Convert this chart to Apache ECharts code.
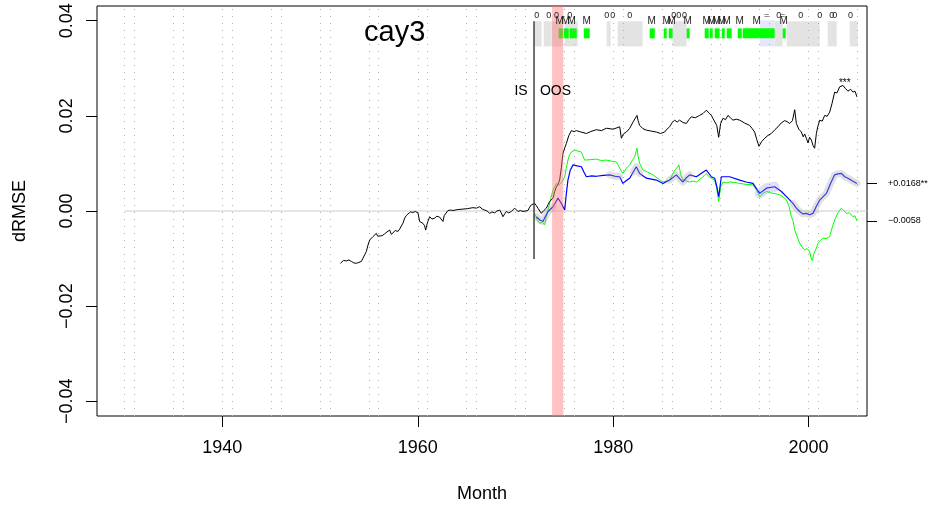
<!DOCTYPE html>
<html>
<head>
<meta charset="utf-8">
<script src="https://cdn.jsdelivr.net/npm/echarts@6/dist/echarts.min.js"></script>
<style>
html, body { margin: 0; padding: 0; background: #fff; }
#chart { width: 932px; height: 512px; }
</style>
</head>
<body>
<div id="chart"></div>
<script>
// Axis ranges and tick labels
const X_MIN = 1927.17, X_MAX = 2005.98;
const Y_MIN = -0.0431, Y_MAX = 0.0431;
const xTicks = [1940, 1960, 1980, 2000];
const yTicks = [-0.04, -0.02, 0, 0.02, 0.04];
const gridYears = [1930, 1931, 1935, 1936, 1940, 1941, 1945, 1946, 1950, 1951, 1955, 1956,
  1960, 1961, 1965, 1966, 1970, 1971, 1975, 1976, 1980, 1981, 1985, 1986, 1990, 1991,
  1995, 1996, 2000, 2001, 2005];

// Cumulative dRMSE, full sample (black)
const blackLine = [
  [1952.08, -0.0110], [1952.25, -0.0106], [1952.40, -0.0104], [1952.55, -0.0108], [1952.69, -0.0105],
  [1952.95, -0.0103], [1953.20, -0.0106], [1953.45, -0.0109], [1953.72, -0.0110], [1953.98, -0.0108],
  [1954.23, -0.0106], [1954.40, -0.0099], [1954.57, -0.0092], [1954.74, -0.0085], [1954.90, -0.0072],
  [1955.08, -0.0061], [1955.25, -0.0058], [1955.41, -0.0054], [1955.60, -0.0050], [1955.76, -0.0047],
  [1955.90, -0.0053], [1956.10, -0.0050], [1956.35, -0.0052], [1956.61, -0.0048], [1956.85, -0.0044],
  [1957.12, -0.0040], [1957.30, -0.0049], [1957.46, -0.0047], [1957.70, -0.0041], [1957.97, -0.0043],
  [1958.15, -0.0038], [1958.32, -0.0040], [1958.50, -0.0025], [1958.66, -0.0015], [1958.85, -0.0009],
  [1959.00, -0.0005], [1959.25, -0.0002], [1959.51, -0.0003], [1959.75, -0.0001], [1960.02, -0.0004],
  [1960.19, -0.0022], [1960.35, -0.0020], [1960.53, -0.0026], [1960.70, -0.0031], [1960.81, -0.0040],
  [1960.92, -0.0030], [1961.04, -0.0022], [1961.22, -0.0012], [1961.45, -0.0017], [1961.73, -0.0015],
  [1961.95, -0.0011], [1962.24, -0.0013], [1962.40, -0.0016], [1962.58, -0.0022], [1962.70, -0.0010],
  [1962.86, -0.0012], [1963.09, 0.0001], [1963.35, 0.0002], [1963.60, 0.0001], [1964.10, 0.0003],
  [1964.63, 0.0004], [1965.10, 0.0005], [1965.65, 0.0007], [1966.00, 0.0006], [1966.34, 0.0009],
  [1966.60, 0.0004], [1966.85, 0.0002], [1967.10, 0.0000], [1967.36, -0.0005], [1967.60, -0.0002],
  [1967.87, -0.0004], [1968.10, 0.0000], [1968.38, 0.0002], [1968.55, -0.0004], [1968.72, -0.0012],
  [1968.90, -0.0006], [1969.07, -0.0001], [1969.30, -0.0004], [1969.58, -0.0001], [1969.75, 0.0002],
  [1969.92, 0.0006], [1970.10, 0.0002], [1970.26, -0.0001], [1970.50, 0.0001], [1970.77, -0.0001],
  [1971.00, 0.0000], [1971.28, 0.0001], [1971.45, 0.0008], [1971.63, 0.0013], [1971.80, 0.0009],
  [1971.97, 0.0016], [1972.15, 0.0011], [1972.30, 0.0006], [1972.50, 0.0002], [1972.65, -0.0005],
  [1972.90, 0.0001], [1973.16, 0.0006], [1973.35, 0.0014], [1973.50, 0.0020], [1973.70, 0.0022],
  [1973.84, 0.0027], [1974.00, 0.0040], [1974.19, 0.0051], [1974.35, 0.0056], [1974.52, 0.0065],
  [1974.70, 0.0092], [1974.86, 0.0121], [1975.05, 0.0133], [1975.21, 0.0142], [1975.45, 0.0158],
  [1975.72, 0.0169], [1976.00, 0.0167], [1976.23, 0.0169], [1976.70, 0.0166], [1977.26, 0.0163],
  [1977.70, 0.0167], [1978.28, 0.0171], [1978.80, 0.0169], [1979.30, 0.0174], [1980.00, 0.0172],
  [1980.67, 0.0177], [1980.84, 0.0153], [1981.05, 0.0162], [1981.35, 0.0166], [1981.70, 0.0174],
  [1982.03, 0.0187], [1982.20, 0.0184], [1982.44, 0.0201], [1982.55, 0.0190], [1982.71, 0.0180],
  [1983.05, 0.0173], [1983.40, 0.0170], [1983.90, 0.0168], [1984.42, 0.0166], [1984.85, 0.0163],
  [1985.27, 0.0166], [1985.50, 0.0172], [1985.78, 0.0177], [1986.05, 0.0186], [1986.29, 0.0191],
  [1986.55, 0.0187], [1986.80, 0.0191], [1987.15, 0.0186], [1987.49, 0.0184], [1987.75, 0.0192],
  [1988.00, 0.0198], [1988.40, 0.0196], [1988.85, 0.0201], [1989.20, 0.0205], [1989.54, 0.0212],
  [1989.80, 0.0206], [1990.05, 0.0201], [1990.20, 0.0195], [1990.39, 0.0198], [1990.60, 0.0180],
  [1990.80, 0.0155], [1991.00, 0.0184], [1991.24, 0.0195], [1991.50, 0.0192], [1991.75, 0.0201],
  [1992.00, 0.0196], [1992.26, 0.0191], [1992.60, 0.0193], [1992.95, 0.0191], [1993.45, 0.0185],
  [1993.97, 0.0180], [1994.20, 0.0174], [1994.48, 0.0166], [1994.70, 0.0150], [1994.92, 0.0136],
  [1995.20, 0.0146], [1995.51, 0.0153], [1995.85, 0.0159], [1996.19, 0.0163], [1996.55, 0.0171],
  [1996.87, 0.0177], [1997.20, 0.0185], [1997.55, 0.0190], [1997.80, 0.0188], [1998.07, 0.0184],
  [1998.35, 0.0190], [1998.58, 0.0213], [1998.75, 0.0184], [1999.00, 0.0172], [1999.26, 0.0166],
  [1999.45, 0.0156], [1999.60, 0.0162], [1999.77, 0.0153], [1999.95, 0.0143], [2000.10, 0.0155],
  [2000.29, 0.0149], [2000.45, 0.0138], [2000.62, 0.0132], [2000.80, 0.0163], [2000.95, 0.0178],
  [2001.14, 0.0191], [2001.40, 0.0189], [2001.65, 0.0201], [2001.90, 0.0199], [2002.16, 0.0208],
  [2002.40, 0.0226], [2002.67, 0.0250], [2002.90, 0.0248], [2003.18, 0.0261], [2003.35, 0.0257],
  [2003.52, 0.0264], [2003.75, 0.0258], [2004.03, 0.0252], [2004.30, 0.0256], [2004.54, 0.0250],
  [2004.75, 0.0252], [2004.95, 0.0240]
];

// Out-of-sample dRMSE, unconditional (green)
const greenLine = [
  [1971.97, -0.0005], [1972.20, -0.0018], [1972.48, -0.0026], [1972.75, -0.0024], [1972.99, -0.0029],
  [1973.15, -0.0012], [1973.33, 0.0002], [1973.60, 0.0025], [1973.84, 0.0044], [1974.00, 0.0050],
  [1974.19, 0.0058], [1974.35, 0.0053], [1974.52, 0.0051], [1974.80, 0.0062], [1975.04, 0.0072],
  [1975.20, 0.0090], [1975.37, 0.0107], [1975.55, 0.0119], [1975.72, 0.0124], [1976.06, 0.0128],
  [1976.40, 0.0126], [1976.75, 0.0124], [1976.90, 0.0116], [1977.08, 0.0107], [1977.70, 0.0108],
  [1978.28, 0.0109], [1978.80, 0.0106], [1979.30, 0.0107], [1979.80, 0.0105], [1980.33, 0.0103],
  [1980.50, 0.0097], [1980.67, 0.0090], [1981.00, 0.0079], [1981.35, 0.0090], [1981.69, 0.0097],
  [1982.00, 0.0108], [1982.20, 0.0114], [1982.44, 0.0132], [1982.55, 0.0115], [1982.71, 0.0100],
  [1983.05, 0.0086], [1983.50, 0.0082], [1984.07, 0.0076], [1984.60, 0.0068], [1985.10, 0.0061],
  [1985.40, 0.0063], [1985.78, 0.0065], [1986.05, 0.0076], [1986.29, 0.0086], [1986.50, 0.0090],
  [1986.73, 0.0097], [1986.90, 0.0078], [1987.14, 0.0065], [1987.50, 0.0063], [1987.83, 0.0061],
  [1988.20, 0.0063], [1988.52, 0.0061], [1989.03, 0.0069], [1989.30, 0.0074], [1989.54, 0.0079],
  [1989.80, 0.0072], [1990.05, 0.0069], [1990.39, 0.0065], [1990.60, 0.0048], [1990.80, 0.0020],
  [1991.00, 0.0050], [1991.24, 0.0061], [1991.60, 0.0059], [1991.93, 0.0061], [1992.45, 0.0060],
  [1992.95, 0.0058], [1993.60, 0.0056], [1994.31, 0.0055], [1994.70, 0.0043], [1995.00, 0.0030],
  [1995.35, 0.0037], [1995.68, 0.0041], [1996.00, 0.0039], [1996.36, 0.0037], [1996.70, 0.0036],
  [1997.04, 0.0034], [1997.40, 0.0030], [1997.73, 0.0023], [1998.00, 0.0010], [1998.24, -0.0012],
  [1998.40, -0.0020], [1998.58, -0.0040], [1998.85, -0.0055], [1999.09, -0.0068], [1999.35, -0.0076],
  [1999.60, -0.0082], [1999.85, -0.0079], [2000.11, -0.0085], [2000.25, -0.0098], [2000.40, -0.0105],
  [2000.50, -0.0092], [2000.62, -0.0096], [2000.80, -0.0078], [2000.96, -0.0068], [2001.20, -0.0062],
  [2001.47, -0.0057], [2001.80, -0.0058], [2002.16, -0.0054], [2002.40, -0.0036], [2002.67, -0.0019],
  [2003.00, -0.0004], [2003.36, 0.0006], [2003.60, 0.0001], [2003.87, -0.0005], [2004.20, -0.0004],
  [2004.54, -0.0012], [2004.75, -0.0010], [2004.95, -0.0021]
];

// Out-of-sample dRMSE, truncated (blue)
const blueLine = [
  [1972.14, -0.0012], [1972.50, -0.0019], [1972.81, -0.0022], [1973.05, -0.0012], [1973.33, -0.0001],
  [1973.84, 0.0009], [1974.10, 0.0018], [1974.35, 0.0027], [1974.70, 0.0016], [1975.04, 0.0002],
  [1975.20, 0.0035], [1975.37, 0.0065], [1975.60, 0.0085], [1975.89, 0.0097], [1976.30, 0.0095],
  [1976.75, 0.0093], [1977.00, 0.0082], [1977.26, 0.0072], [1977.80, 0.0074], [1978.28, 0.0073],
  [1979.00, 0.0075], [1979.64, 0.0076], [1980.20, 0.0073], [1980.67, 0.0072], [1981.00, 0.0058],
  [1981.35, 0.0064], [1981.69, 0.0069], [1982.05, 0.0082], [1982.37, 0.0093], [1982.71, 0.0079],
  [1983.40, 0.0069], [1984.42, 0.0065], [1985.10, 0.0058], [1985.78, 0.0065], [1986.47, 0.0076],
  [1986.80, 0.0068], [1987.14, 0.0061], [1987.50, 0.0070], [1987.83, 0.0076], [1988.52, 0.0072],
  [1989.00, 0.0079], [1989.54, 0.0086], [1990.05, 0.0072], [1990.39, 0.0069], [1990.60, 0.0052],
  [1990.80, 0.0030], [1991.07, 0.0072], [1991.93, 0.0072], [1992.95, 0.0065], [1993.60, 0.0061],
  [1994.31, 0.0058], [1994.70, 0.0046], [1995.00, 0.0037], [1995.68, 0.0048], [1996.53, 0.0051],
  [1997.22, 0.0041], [1997.89, 0.0027], [1998.40, 0.0016], [1998.75, 0.0006], [1999.09, -0.0001],
  [1999.40, -0.0006], [1999.77, -0.0005], [2000.10, -0.0008], [2000.45, -0.0005], [2000.80, 0.0010],
  [2001.14, 0.0023], [2001.82, 0.0037], [2002.25, 0.0058], [2002.67, 0.0076], [2003.00, 0.0078],
  [2003.36, 0.0079], [2003.70, 0.0072], [2004.03, 0.0069], [2004.50, 0.0063], [2004.95, 0.0058]
];

// Periods where the uncertainty band around the blue line is visible
const grayBandSpans = [[1972.1, 1973.9], [1979.6, 1980.8], [1981.9, 1982.8], [1985.7, 1988.0], [1998.3, 2005.0]];
const blueBandSpans = [[1994.9, 1996.6]];

// Highlighted recession-like shading
const pinkSpan = [1973.75, 1974.9];

// Top strip: gray periods, green periods, light-blue period
const stripGray = [
  [1971.97, 1972.68], [1972.89, 1973.71], [1973.71, 1974.84], [1975.04, 1976.37],
  [1979.34, 1979.74], [1980.46, 1983.02], [1986.09, 1987.52], [1996.53, 1997.35],
  [1997.76, 2001.14], [2001.96, 2002.88], [2004.21, 2005.03]
];
const stripGreen = [
  [1974.42, 1974.84], [1974.93, 1975.45], [1975.55, 1976.27], [1976.99, 1977.60],
  [1983.74, 1984.26], [1985.18, 1985.48], [1985.69, 1986.09], [1987.52, 1987.83],
  [1989.37, 1989.78], [1989.88, 1990.19], [1990.39, 1990.90], [1991.11, 1991.42],
  [1991.62, 1992.13], [1992.75, 1993.16], [1993.26, 1996.53], [1997.35, 1997.66]
];
const stripBlue = [[1995.0, 1996.53]];
const stripGrayY = [0.0346, 0.0399];
const stripGreenY = [0.0363, 0.0384];

// Event markers above the strip
const zeroMarks = [
  [1972.17, '0'], [1973.40, '0'], [1974.20, '0'], [1975.55, '0'], [1979.34, '0'], [1979.95, '0'],
  [1981.69, '0'], [1986.20, '0'], [1986.70, '0'], [1987.30, '0'], [1995.70, '='], [1996.94, '0'],
  [1997.35, '='], [1999.20, '0'], [2001.14, '0'], [2002.37, '0'], [2002.68, '0'], [2004.30, '0']
];
const mMarks = [1974.52, 1975.14, 1975.75, 1977.29, 1983.94, 1985.48, 1985.99, 1987.63,
  1989.57, 1990.08, 1990.59, 1991.11, 1991.62, 1992.95, 1994.69, 1997.45];
const zeroMarkY = 0.0411, mMarkY = 0.0398;

// In-sample / out-of-sample split
const splitYear = 1971.9;
const splitRange = [-0.0101, 0.0399];
const notes = [
  [1971.25, 0.0252, 'IS', 'right', 14],
  [1972.50, 0.0252, 'OOS', 'left', 14],
  [2003.70, 0.0268, '***', 'center', 10]
];

// Right-hand end-value labels (blue end, green end)
const endLabels = ['+0.0168**', '\u22120.0058'];

const FONT = '"Liberation Sans", Arial, Helvetica, sans-serif';
const blueEnd = blueLine[blueLine.length - 1][1];
const greenEnd = greenLine[greenLine.length - 1][1];

function spanPoints(line, spans) {
  const out = [];
  spans.forEach(function (s, i) {
    if (i > 0) out.push([null, null]);
    line.forEach(function (p) { if (p[0] >= s[0] && p[0] <= s[1]) out.push(p); });
  });
  return out;
}

function rectRenderer(color, opacity) {
  return function (params, api) {
    const a = api.coord([api.value(0), api.value(3)]);
    const b = api.coord([api.value(1), api.value(2)]);
    return {
      type: 'rect',
      shape: { x: a[0], y: a[1], width: Math.max(b[0] - a[0], 1), height: b[1] - a[1] },
      style: { fill: color, opacity: opacity }
    };
  };
}

function fmtY(v) {
  const s = Math.abs(v).toFixed(2);
  return v < 0 ? '\u2212' + s : s;
}

const chart = echarts.init(document.getElementById('chart'), null, { renderer: 'canvas' });

chart.setOption({
  animation: false,
  backgroundColor: '#ffffff',
  title: {
    text: 'cay3',
    left: 359, top: 13,
    textStyle: { fontFamily: FONT, fontSize: 29, fontWeight: 'normal', color: '#000' }
  },
  grid: {
    left: 97, right: 65, top: 6, bottom: 96,
    show: true, borderColor: '#000', borderWidth: 1, backgroundColor: 'transparent'
  },
  xAxis: {
    type: 'value', min: X_MIN, max: X_MAX,
    name: 'Month', nameLocation: 'middle', nameGap: 69,
    nameTextStyle: { fontFamily: FONT, fontSize: 18, color: '#000' },
    axisLine: { show: false, onZero: false },
    axisTick: { show: true, length: 11, customValues: xTicks, lineStyle: { color: '#000', width: 1 } },
    axisLabel: { customValues: xTicks, fontFamily: FONT, fontSize: 18, color: '#000', margin: 23,
      formatter: function (v) { return String(v); } },
    splitLine: { show: false }
  },
  yAxis: [{
    type: 'value', min: Y_MIN, max: Y_MAX, position: 'left',
    name: 'dRMSE', nameLocation: 'middle', nameGap: 68, nameRotate: 90,
    nameTextStyle: { fontFamily: FONT, fontSize: 18, color: '#000' },
    axisLine: { show: false, onZero: false },
    axisTick: { show: true, length: 11, customValues: yTicks, lineStyle: { color: '#000', width: 1 } },
    axisLabel: { customValues: yTicks, rotate: 90, fontFamily: FONT, fontSize: 18, color: '#000',
      margin: 21, formatter: fmtY },
    splitLine: { show: false }
  }, {
    type: 'value', min: Y_MIN, max: Y_MAX, position: 'right',
    axisLine: { show: false, onZero: false },
    axisTick: { show: true, length: 10, customValues: [blueEnd, greenEnd], lineStyle: { color: '#000', width: 1 } },
    axisLabel: { customValues: [blueEnd, greenEnd], fontFamily: FONT, fontSize: 9, color: '#000', margin: 21,
      formatter: function (v) { return v === blueEnd ? endLabels[0] : endLabels[1]; } },
    splitLine: { show: false }
  }],
  series: [
    {
      name: 'zero', type: 'line', z: 1, silent: true, symbol: 'none',
      data: [[1930, 0], [2006, 0]],
      lineStyle: { color: '#cccccc', width: 1 },
      markLine: {
        silent: true, symbol: ['none', 'none'], label: { show: false },
        lineStyle: { color: '#b0b0b0', width: 1, type: [1, 6] },
        data: gridYears.map(function (v) { return { xAxis: v }; })
      }
    },
    {
      name: 'stripGray', type: 'custom', z: 2, silent: true,
      renderItem: rectRenderer('#e3e3e3', 1),
      encode: { x: [0, 1], y: [2, 3] },
      data: stripGray.map(function (s) { return [s[0], s[1], stripGrayY[0], stripGrayY[1]]; })
    },
    {
      name: 'stripBlue', type: 'custom', z: 3, silent: true,
      renderItem: rectRenderer('#e6e6fb', 1),
      encode: { x: [0, 1], y: [2, 3] },
      data: stripBlue.map(function (s) { return [s[0], s[1], stripGrayY[0], 0.0401]; })
    },
    {
      name: 'stripGreen', type: 'custom', z: 4, silent: true,
      renderItem: rectRenderer('#00ff00', 1),
      encode: { x: [0, 1], y: [2, 3] },
      data: stripGreen.map(function (s) { return [s[0], s[1], stripGreenY[0], stripGreenY[1]]; })
    },
    {
      name: 'green', type: 'line', z: 5, symbol: 'none', data: greenLine,
      lineStyle: { color: '#00ff00', width: 1 }
    },
    {
      name: 'blue', type: 'line', z: 6, symbol: 'none', data: blueLine,
      lineStyle: { color: '#0000ff', width: 1.2 }
    },
    {
      name: 'black', type: 'line', z: 7, symbol: 'none', data: blackLine,
      lineStyle: { color: '#000000', width: 1 }
    },
    {
      name: 'grayBand', type: 'line', z: 8, symbol: 'none', connectNulls: false, silent: true,
      data: spanPoints(blueLine, grayBandSpans),
      lineStyle: { color: 'rgba(170,170,170,0.35)', width: 7, cap: 'round', join: 'round' }
    },
    {
      name: 'blueBand', type: 'line', z: 8, symbol: 'none', silent: true,
      data: spanPoints(blueLine, blueBandSpans),
      lineStyle: { color: 'rgba(150,150,240,0.3)', width: 10, cap: 'round', join: 'round' }
    },
    {
      name: 'pink', type: 'custom', z: 9, silent: true,
      renderItem: rectRenderer('rgb(255,120,120)', 0.45),
      encode: { x: [0, 1], y: [2, 3] },
      data: [[pinkSpan[0], pinkSpan[1], Y_MIN, Y_MAX]]
    },
    {
      name: 'split', type: 'line', z: 10, symbol: 'none', silent: true,
      data: [[splitYear, splitRange[0]], [splitYear, splitRange[1]]],
      lineStyle: { color: '#333333', width: 1.4 }
    },
    {
      name: 'zeroMarks', type: 'custom', z: 11, silent: true,
      encode: { x: 0, y: 1 },
      data: zeroMarks.map(function (m) { return [m[0], zeroMarkY]; }),
      renderItem: function (params, api) {
        const p = api.coord([api.value(0), api.value(1)]);
        return { type: 'text', x: p[0], y: p[1],
          style: { text: zeroMarks[params.dataIndex][1], fill: '#222', font: '9px ' + FONT,
            align: 'center', verticalAlign: 'middle' } };
      }
    },
    {
      name: 'mMarks', type: 'custom', z: 11, silent: true,
      encode: { x: 0, y: 1 },
      data: mMarks.map(function (m) { return [m, mMarkY]; }),
      renderItem: function (params, api) {
        const p = api.coord([api.value(0), api.value(1)]);
        return { type: 'text', x: p[0], y: p[1],
          style: { text: 'M', fill: '#222', font: '10px ' + FONT, align: 'center', verticalAlign: 'middle' } };
      }
    },
    {
      name: 'notes', type: 'custom', z: 11, silent: true,
      encode: { x: 0, y: 1 },
      data: notes.map(function (n) { return [n[0], n[1]]; }),
      renderItem: function (params, api) {
        const n = notes[params.dataIndex];
        const p = api.coord([api.value(0), api.value(1)]);
        return { type: 'text', x: p[0], y: p[1],
          style: { text: n[2], fill: '#000', font: n[4] + 'px ' + FONT, align: n[3], verticalAlign: 'middle' } };
      }
    }
  ]
});
</script>
</body>
</html>
